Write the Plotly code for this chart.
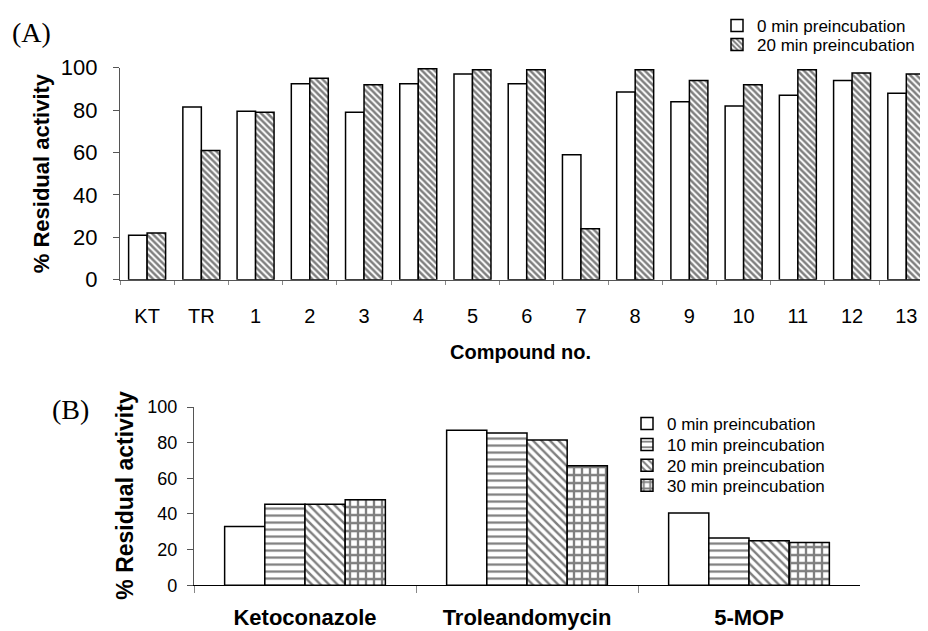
import plotly.graph_objects as go

# ---------------- data ----------------
compounds = ["KT", "TR", "1", "2", "3", "4", "5", "6", "7", "8", "9", "10", "11", "12", "13"]
resid_0min_A = [21, 81.5, 79.5, 92.5, 79, 92.5, 97, 92.5, 59, 88.5, 84, 82, 87, 94, 88]
resid_20min_A = [22, 61, 79, 95, 92, 99.5, 99, 99, 24, 99, 94, 92, 99, 97.5, 97]

drugs = ["Ketoconazole", "Troleandomycin", "5-MOP"]
resid_0min_B = [33, 87, 40.5]
resid_10min_B = [45.5, 85.5, 26.5]
resid_20min_B = [45.5, 81.5, 25]
resid_30min_B = [48, 67, 24]

y_ticks = [0, 20, 40, 60, 80, 100]

# ---------------- geometry helpers ----------------
# the page body has an 8px margin, so the figure is 8px smaller and
# reference pixel positions are shifted by 8px
OFF = 8
W, H = 928 - OFF, 631 - OFF


def fx(p):
    return (p - OFF) / W


def fy(p):
    return 1 - (p - OFF) / H


FONT = "Liberation Sans, Arial, sans-serif"
SERIF = "Liberation Serif, Times New Roman, serif"
OUTLINE = dict(color="black", width=1.5)

fig = go.Figure()

# ---------------- panel A ----------------
wA = 0.341
fig.add_trace(go.Bar(
    x=compounds, y=resid_0min_A, name="0 min preincubation",
    xaxis="x", yaxis="y", legend="legend", showlegend=True,
    width=wA, offset=-wA,
    marker=dict(color="white", line=OUTLINE),
))
fig.add_trace(go.Bar(
    x=compounds, y=resid_20min_A, name="20 min preincubation",
    xaxis="x", yaxis="y", legend="legend3", showlegend=True,
    width=wA, offset=0,
    marker=dict(color="white", line=OUTLINE,
                pattern=dict(shape="\\", fgcolor="black", bgcolor="white",
                             size=4.5, solidity=0.55)),
))

# ---------------- panel B ----------------
wB = 0.181
b_series = [
    ("0 min preincubation", resid_0min_B, None, "legend2"),
    ("10 min preincubation", resid_10min_B, dict(shape="-", size=7, solidity=0.32), "legend4"),
    ("20 min preincubation", resid_20min_B, dict(shape="\\", size=6, solidity=0.4), "legend5"),
    ("30 min preincubation", resid_30min_B, dict(shape="+", size=8, solidity=0.5), "legend6"),
]
for i, (nm, vals, pat, lg) in enumerate(b_series):
    mk = dict(color="white", line=OUTLINE)
    if pat is not None:
        mk["pattern"] = dict(fgcolor="black", bgcolor="white", **pat)
    fig.add_trace(go.Bar(
        x=drugs, y=vals, name=nm,
        xaxis="x2", yaxis="y2", legend=lg, showlegend=True,
        width=wB, offset=-2 * wB + i * wB,
        marker=mk,
    ))

AXC = "#555555"


def legend_at(text_left, row_center):
    return dict(
        visible=True,
        x=fx(text_left - 40), y=fy(row_center), xanchor="left", yanchor="middle",
        font=dict(size=17), bgcolor="rgba(0,0,0,0)", traceorder="normal",
    )


fig.update_layout(
    width=W, height=H,
    margin=dict(l=0, r=0, t=0, b=0),
    paper_bgcolor="white", plot_bgcolor="white",
    barmode="overlay",
    showlegend=True,
    font=dict(family=FONT, color="black", size=18),
    xaxis=dict(
        domain=[fx(120), 1], type="category", range=[-0.5, 14.4],
        showline=True, linecolor=AXC, linewidth=1.2,
        ticks="outside", tickson="boundaries", ticklen=4, tickcolor="#888",
        tickfont=dict(size=20), ticklabelstandoff=18,
        showgrid=False, zeroline=False, automargin=False,
    ),
    yaxis=dict(
        domain=[fy(278), fy(65)], range=[0, 100], tickvals=y_ticks,
        showline=True, linecolor=AXC, linewidth=1.2,
        ticks="outside", ticklen=6, tickcolor=AXC,
        tickfont=dict(size=22), ticklabelstandoff=11,
        showgrid=False, zeroline=False, automargin=False,
    ),
    xaxis2=dict(
        domain=[fx(194), fx(860)], type="category", range=[-0.5, 2.5],
        showline=True, linecolor="black", linewidth=1.2,
        ticks="outside", tickson="boundaries", ticklen=7, tickcolor="#888",
        tickfont=dict(size=22), ticklabelstandoff=12,
        tickvals=drugs, ticktext=["<b>%s</b>" % d for d in drugs],
        showgrid=False, zeroline=False, automargin=False,
        anchor="y2",
    ),
    yaxis2=dict(
        domain=[fy(585), fy(406)], range=[0, 100], tickvals=y_ticks,
        showline=True, linecolor=AXC, linewidth=1.2,
        ticks="outside", ticklen=6, tickcolor=AXC,
        tickfont=dict(size=18), ticklabelstandoff=6,
        showgrid=False, zeroline=False, automargin=False,
        anchor="x2",
    ),
    legend=legend_at(757, 23),
    legend3=legend_at(757, 42),
    legend2=legend_at(667, 423),
    legend4=legend_at(667, 444),
    legend5=legend_at(667, 465),
    legend6=legend_at(667, 485),
    annotations=[
        dict(text="(A)", x=fx(10), y=fy(30), xref="paper", yref="paper",
             xanchor="left", yanchor="middle", showarrow=False,
             font=dict(family=SERIF, size=28, color="black")),
        dict(text="(B)", x=fx(50), y=fy(408), xref="paper", yref="paper",
             xanchor="left", yanchor="middle", showarrow=False,
             font=dict(family=SERIF, size=28, color="black")),
        dict(text="<b>% Residual activity</b>", x=fx(41), y=fy(171),
             xref="paper", yref="paper", xanchor="center", yanchor="middle",
             textangle=-90, showarrow=False, font=dict(size=22)),
        dict(text="<b>Compound no.</b>", x=fx(520), y=fy(351),
             xref="paper", yref="paper", xanchor="center", yanchor="middle",
             showarrow=False, font=dict(size=20)),
        dict(text="<b>% Residual activity</b>", x=fx(125), y=fy(494),
             xref="paper", yref="paper", xanchor="center", yanchor="middle",
             textangle=-90, showarrow=False, font=dict(size=23)),
    ],
)

fig.write_html("out.html")
